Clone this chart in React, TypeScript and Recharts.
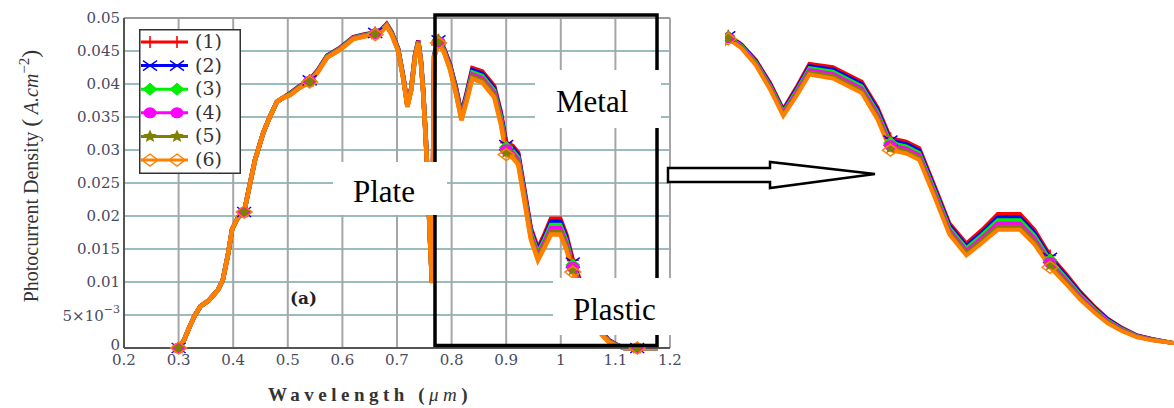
import React from 'react';
import { LineChart, Line, XAxis, YAxis, CartesianGrid, ReferenceArea, ReferenceLine, Legend } from 'recharts';

const wavelength = [
  0.300, 0.310, 0.320, 0.330, 0.340, 0.355, 0.372, 0.381, 0.391, 0.398,
  0.409, 0.420, 0.431, 0.440, 0.455, 0.467, 0.480, 0.491, 0.504, 0.520,
  0.540, 0.555, 0.572, 0.596, 0.620, 0.640, 0.660, 0.672, 0.681, 0.690,
  0.702, 0.712, 0.719, 0.726, 0.733, 0.739, 0.744, 0.748, 0.752, 0.756,
  0.760, 0.764, 0.768, 0.776, 0.786, 0.797, 0.808, 0.818, 0.828, 0.838,
  0.856, 0.878, 0.890, 0.900, 0.912, 0.922, 0.933, 0.945, 0.958, 0.970,
  0.982, 0.999, 1.010, 1.022, 1.034, 1.045, 1.056, 1.066, 1.077, 1.088,
  1.100, 1.116, 1.140, 1.178,
];

const series1 = [
  0.0000, 0.0012, 0.0032, 0.0050, 0.0063, 0.0072, 0.0088, 0.0103, 0.0144, 0.0180,
  0.0198, 0.0206, 0.0250, 0.0285, 0.0326, 0.0350, 0.0373, 0.0379, 0.0386, 0.0396,
  0.0406, 0.0421, 0.0443, 0.0455, 0.0471, 0.0475, 0.0478, 0.0483, 0.0491, 0.0479,
  0.0454, 0.0409, 0.0369, 0.0394, 0.0444, 0.0466, 0.0434, 0.0390, 0.0330, 0.0264,
  0.0174, 0.0102, 0.0444, 0.0467, 0.0454, 0.0430, 0.0395, 0.0355, 0.0388, 0.0424,
  0.0419, 0.0397, 0.0358, 0.0311, 0.0306, 0.0296, 0.0242, 0.0182, 0.0151, 0.0172,
  0.0196, 0.0196, 0.0172, 0.0133, 0.0105, 0.0078, 0.0055, 0.0037, 0.0023, 0.0012,
  0.0006, 0.0000, 0.0000, 0.0000,
];
const series2 = [
  0.0000, 0.0012, 0.0032, 0.0050, 0.0063, 0.0072, 0.0088, 0.0103, 0.0144, 0.0180,
  0.0198, 0.0206, 0.0250, 0.0285, 0.0326, 0.0350, 0.0373, 0.0379, 0.03854, 0.03954,
  0.04054, 0.04204, 0.04424, 0.04544, 0.04704, 0.04744, 0.04774, 0.04824, 0.04904, 0.04782,
  0.04532, 0.04082, 0.03682, 0.03932, 0.04432, 0.04652, 0.04332, 0.03892, 0.03292, 0.02632,
  0.01732, 0.01012, 0.04432, 0.0466, 0.04528, 0.04284, 0.0393, 0.0353, 0.03854, 0.04208,
  0.04156, 0.03936, 0.03544, 0.03074, 0.03024, 0.02924, 0.02386, 0.01786, 0.01474, 0.0168,
  0.01912, 0.01912, 0.01676, 0.01294, 0.0102, 0.00756, 0.00532, 0.00356, 0.0022, 0.00114,
  0.00056, 0.0000, 0.0000, 0.0000,
];
const series3 = [
  0.0000, 0.0012, 0.0032, 0.0050, 0.0063, 0.0072, 0.0088, 0.0103, 0.0144, 0.0180,
  0.0198, 0.0206, 0.0250, 0.0285, 0.0326, 0.0350, 0.0373, 0.0379, 0.03848, 0.03948,
  0.04048, 0.04198, 0.04418, 0.04538, 0.04698, 0.04738, 0.04768, 0.04818, 0.04898, 0.04774,
  0.04524, 0.04074, 0.03674, 0.03924, 0.04424, 0.04644, 0.04324, 0.03884, 0.03284, 0.02624,
  0.01724, 0.01004, 0.04424, 0.0465, 0.04516, 0.04268, 0.0391, 0.0351, 0.03828, 0.04176,
  0.04122, 0.03902, 0.03508, 0.03038, 0.02988, 0.02888, 0.02352, 0.01752, 0.01438, 0.0164,
  0.01864, 0.01864, 0.01632, 0.01258, 0.0099, 0.00732, 0.00514, 0.00342, 0.0021, 0.00108,
  0.00052, 0.0000, 0.0000, 0.0000,
];
const series4 = [
  0.0000, 0.0012, 0.0032, 0.0050, 0.0063, 0.0072, 0.0088, 0.0103, 0.0144, 0.0180,
  0.0198, 0.0206, 0.0250, 0.0285, 0.0326, 0.0350, 0.0373, 0.0379, 0.03842, 0.03942,
  0.04042, 0.04192, 0.04412, 0.04532, 0.04692, 0.04732, 0.04762, 0.04812, 0.04892, 0.04766,
  0.04516, 0.04066, 0.03666, 0.03916, 0.04416, 0.04636, 0.04316, 0.03876, 0.03276, 0.02616,
  0.01716, 0.00996, 0.04416, 0.0464, 0.04504, 0.04252, 0.0389, 0.0349, 0.03802, 0.04144,
  0.04088, 0.03868, 0.03472, 0.03002, 0.02952, 0.02852, 0.02318, 0.01718, 0.01402, 0.0160,
  0.01816, 0.01816, 0.01588, 0.01222, 0.0096, 0.00708, 0.00496, 0.00328, 0.0020, 0.00102,
  0.00048, 0.0000, 0.0000, 0.0000,
];
const series5 = [
  0.0000, 0.0012, 0.0032, 0.0050, 0.0063, 0.0072, 0.0088, 0.0103, 0.0144, 0.0180,
  0.0198, 0.0206, 0.0250, 0.0285, 0.0326, 0.0350, 0.0373, 0.0379, 0.03836, 0.03936,
  0.04036, 0.04186, 0.04406, 0.04526, 0.04686, 0.04726, 0.04756, 0.04806, 0.04886, 0.04758,
  0.04508, 0.04058, 0.03658, 0.03908, 0.04408, 0.04628, 0.04308, 0.03868, 0.03268, 0.02608,
  0.01708, 0.00988, 0.04408, 0.0463, 0.04492, 0.04236, 0.0387, 0.0347, 0.03776, 0.04112,
  0.04054, 0.03834, 0.03436, 0.02966, 0.02916, 0.02816, 0.02284, 0.01684, 0.01366, 0.0156,
  0.01768, 0.01768, 0.01544, 0.01186, 0.0093, 0.00684, 0.00478, 0.00314, 0.0019, 0.00096,
  0.00044, 0.0000, 0.0000, 0.0000,
];
const series6 = [
  0.0000, 0.0012, 0.0032, 0.0050, 0.0063, 0.0072, 0.0088, 0.0103, 0.0144, 0.0180,
  0.0198, 0.0206, 0.0250, 0.0285, 0.0326, 0.0350, 0.0373, 0.0379, 0.0383, 0.0393,
  0.0403, 0.0418, 0.0440, 0.0452, 0.0468, 0.0472, 0.0475, 0.0480, 0.0488, 0.0475,
  0.0450, 0.0405, 0.0365, 0.0390, 0.0440, 0.0462, 0.0430, 0.0386, 0.0326, 0.0260,
  0.0170, 0.0098, 0.0440, 0.0462, 0.0448, 0.0422, 0.0385, 0.0345, 0.0375, 0.0408,
  0.0402, 0.0380, 0.0340, 0.0293, 0.0288, 0.0278, 0.0225, 0.0165, 0.0133, 0.0152,
  0.0172, 0.0172, 0.0150, 0.0115, 0.0090, 0.0066, 0.0046, 0.0030, 0.0018, 0.0009,
  0.0004, 0.0000, 0.0000, 0.0000,
];

const seriesNames = ['(1)', '(2)', '(3)', '(4)', '(5)', '(6)'];
const seriesColors = ['#ff0000', '#0000ff', '#00ee00', '#ff00ff', '#808000', '#ff8000'];
const seriesValues = [series1, series2, series3, series4, series5, series6];
const markerWavelengths = [0.300, 0.420, 0.540, 0.660, 0.776, 0.900, 1.022, 1.140];

const xTicks = [0.2, 0.3, 0.4, 0.5, 0.6, 0.7, 0.8, 0.9, 1.0, 1.1, 1.2];
const yTicks = [0, 0.005, 0.01, 0.015, 0.02, 0.025, 0.03, 0.035, 0.04, 0.045, 0.05];

// annotation regions (data coordinates)
const frameRegion = { x1: 0.7696, x2: 1.1762, y1: 0.00038, y2: 0.05045 };
const labelBoxes = [
  { x1: 0.5828, x2: 0.7916, y1: 0.02015, y2: 0.02818, text: 'Plate', dx: 20, dy: 40 },
  { x1: 0.9527, x2: 1.1835, y1: 0.03333, y2: 0.04212, text: 'Metal', dx: 21, dy: 42 },
  { x1: 0.9857, x2: 1.2092, y1: 0.00197, y2: 0.01061, text: 'Plastic', dx: 20, dy: 42 },
];

const data = wavelength.map((w, i) => {
  const row: any = { w };
  seriesValues.forEach((s, k) => { row['s' + (k + 1)] = s[i]; });
  return row;
});

const TICK_FONT = 'DejaVu Serif';
const TICK_FILL = '#4a4a5e';

function starPoints(cx: number, cy: number, R: number, r: number) {
  const pts: string[] = [];
  for (let i = 0; i < 10; i++) {
    const a = -Math.PI / 2 + (i * Math.PI) / 5;
    const rr = i % 2 ? r : R;
    pts.push(`${cx + rr * Math.cos(a)},${cy + rr * Math.sin(a)}`);
  }
  return pts.join(' ');
}

function Marker({ kind, cx, cy }: { kind: number; cx: number; cy: number }) {
  const c = seriesColors[kind];
  switch (kind) {
    case 0:
      return <path d={`M${cx - 6},${cy}H${cx + 6}M${cx},${cy - 6}V${cy + 6}`} stroke={c} strokeWidth={1.6} fill="none" />;
    case 1:
      return <path d={`M${cx - 7},${cy - 5}L${cx + 7},${cy + 5}M${cx - 7},${cy + 5}L${cx + 7},${cy - 5}`} stroke={c} strokeWidth={1.4} fill="none" />;
    case 2:
      return <polygon points={`${cx},${cy - 6} ${cx + 7},${cy} ${cx},${cy + 6} ${cx - 7},${cy}`} fill={c} stroke={c} />;
    case 3:
      return <ellipse cx={cx} cy={cy} rx={6.5} ry={5.5} fill={c} />;
    case 4:
      return <polygon points={starPoints(cx, cy, 7, 3.2)} fill={c} />;
    default:
      return <polygon points={`${cx},${cy - 6} ${cx + 8},${cy} ${cx},${cy + 6} ${cx - 8},${cy}`} fill="none" stroke={c} strokeWidth={1.4} />;
  }
}

const makeDot = (k: number) => (props: any) => {
  const { cx, cy, payload, index } = props;
  const key = `dot-${k}-${index}`;
  if (cx == null || cy == null || !payload || markerWavelengths.indexOf(payload.w) < 0) return <g key={key} />;
  return (
    <g key={key}>
      <Marker kind={k} cx={cx} cy={cy} />
    </g>
  );
};

const YTick = (props: any) => {
  const { x, y, payload } = props;
  const v = payload.value;
  if (Math.abs(v - 0.005) < 1e-9) {
    return (
      <text x={x} y={y} dy={6} textAnchor="end" fontFamily={TICK_FONT} fontSize={15} fill={TICK_FILL}>
        5×10<tspan dy={-8} fontSize={11}>−3</tspan>
      </text>
    );
  }
  return (
    <text x={x} y={y} dy={v === 0 ? 2 : 5} textAnchor="end" fontFamily={TICK_FONT} fontSize={15} fill={TICK_FILL}>
      {v === 0 ? '0' : String(v)}
    </text>
  );
};

const XTick = (props: any) => {
  const { x, y, payload } = props;
  return (
    <text x={x} y={y} dy={11} textAnchor="middle" fontFamily={TICK_FONT} fontSize={15} fill={TICK_FILL}>
      {String(payload.value)}
    </text>
  );
};

const renderYLabel = () => (
  <text
    x={38}
    y={176}
    transform="rotate(-90, 38, 176)"
    textAnchor="middle"
    fontFamily="Liberation Serif"
    fontSize={20}
    fill="#333"
  >
    Photocurrent Density <tspan fontSize={24}>(</tspan>
    <tspan fontStyle="italic"> A.cm</tspan>
    <tspan dy={-9} fontSize={15}>−2</tspan>
    <tspan dy={9} fontSize={24}>)</tspan>
  </text>
);

const renderXLabel = () => (
  <text x={370} y={401} textAnchor="middle" fontFamily="Liberation Serif" fontWeight="bold" fontSize={19} letterSpacing={4.5} fill="#333">
    Wavelength (<tspan fontStyle="italic" fontWeight="normal">μm</tspan>)
  </text>
);

const LegendBox = () => (
  <svg width={102} height={145} style={{ display: 'block' }}>
    <rect x={0.75} y={0.75} width={100.5} height={143.5} fill="#fff" stroke="#333" strokeWidth={1.5} />
    {seriesNames.map((name, k) => {
      const y = 13 + k * 23.6;
      return (
        <g key={name}>
          <line x1={2} x2={49} y1={y} y2={y} stroke={seriesColors[k]} strokeWidth={3} />
          <Marker kind={k} cx={11} cy={y} />
          <Marker kind={k} cx={38} cy={y} />
          <text x={56} y={y + 6} fontFamily="DejaVu Serif" fontSize={19} fill="#333">{name}</text>
        </g>
      );
    })}
  </svg>
);

const boxLabel = (text: string, dx: number, dy: number) => (props: any) => {
  const vb = props.viewBox || { x: 0, y: 0 };
  return (
    <text x={vb.x + dx} y={vb.y + dy} fontFamily="Liberation Serif" fontSize={31} fill="#000">
      {text}
    </text>
  );
};

const W = 690;
const H = 408;

export default function App() {
  return (
    <div style={{ position: 'absolute', left: 0, top: 0, width: 1174, height: 408, background: '#fff', overflow: 'hidden' }}>
      {/* main chart */}
      <div style={{ position: 'absolute', left: 0, top: 0 }}>
        <LineChart width={W} height={H} data={data} margin={{ top: 18, right: 20, left: 0, bottom: 0 }}>
          <CartesianGrid horizontal={true} vertical={false} stroke="#7aa6a6" strokeWidth={1.6} />
          <CartesianGrid horizontal={false} vertical={true} stroke="#a6a6a6" strokeWidth={2} />
          <XAxis
            dataKey="w"
            type="number"
            domain={[0.2, 1.2]}
            ticks={xTicks}
            height={60}
            tickSize={0}
            tickMargin={6}
            tick={XTick}
            axisLine={{ stroke: '#555', strokeWidth: 2 }}
            label={renderXLabel}
          />
          <YAxis
            type="number"
            domain={[0, 0.05]}
            ticks={yTicks}
            width={124}
            tickSize={0}
            tickMargin={4}
            tick={YTick}
            axisLine={{ stroke: '#555', strokeWidth: 2 }}
            label={renderYLabel}
          />
          <ReferenceLine y={0.05} stroke="#999" strokeWidth={2} />
          {seriesNames.map((name, k) => (
            <Line
              key={name}
              type="linear"
              dataKey={'s' + (k + 1)}
              name={name}
              stroke={seriesColors[k]}
              strokeWidth={4.5}
              dot={makeDot(k)}
              activeDot={false}
              isAnimationActive={false}
            />
          ))}
          <Legend
            layout="vertical"
            align="center"
            verticalAlign="middle"
            wrapperStyle={{ position: 'absolute', left: 139, top: 29, width: 102, height: 145 }}
            content={() => <LegendBox />}
          />
        </LineChart>
      </div>

      {/* overlay annotations in the same data space */}
      <div style={{ position: 'absolute', left: 0, top: 0 }}>
        <LineChart width={W} height={H} data={data} margin={{ top: 18, right: 20, left: 0, bottom: 0 }}>
          <XAxis dataKey="w" type="number" domain={[0.2, 1.2]} ticks={xTicks} height={60} tick={false} axisLine={false} tickLine={false} />
          <YAxis type="number" domain={[0, 0.05]} ticks={yTicks} width={124} tick={false} axisLine={false} tickLine={false} />
          <Line dataKey="s6" stroke="none" strokeWidth={0} dot={false} activeDot={false} isAnimationActive={false} />
          <ReferenceArea
            x1={frameRegion.x1}
            x2={frameRegion.x2}
            y1={frameRegion.y1}
            y2={frameRegion.y2}
            fill="none"
            fillOpacity={0}
            stroke="#000"
            strokeWidth={3.5}
            ifOverflow="visible"
          />
          {labelBoxes.map((b) => (
            <ReferenceArea
              key={b.text}
              x1={b.x1}
              x2={b.x2}
              y1={b.y1}
              y2={b.y2}
              fill="#fff"
              fillOpacity={1}
              stroke="none"
              ifOverflow="visible"
              label={boxLabel(b.text, b.dx, b.dy)}
            />
          ))}
        </LineChart>
      </div>

      {/* magnified detail on the right */}
      <div style={{ position: 'absolute', left: 725, top: 0 }}>
        <LineChart width={449} height={408} data={data} margin={{ top: 0, right: 0, left: 0, bottom: 0 }}>
          <XAxis dataKey="w" type="number" domain={[0.77347, 1.11674]} allowDataOverflow hide />
          <YAxis type="number" domain={[-0.00988, 0.05212]} allowDataOverflow hide />
          {seriesNames.map((name, k) => (
            <Line
              key={name}
              type="linear"
              dataKey={'s' + (k + 1)}
              stroke={seriesColors[k]}
              strokeWidth={4}
              dot={makeDot(k)}
              activeDot={false}
              isAnimationActive={false}
            />
          ))}
        </LineChart>
      </div>

      {/* arrow and panel tag */}
      <svg width={1174} height={408} style={{ position: 'absolute', left: 0, top: 0, pointerEvents: 'none' }}>
        <polygon
          points="668,168 770,168 770,162 875,174 770,188 770,182 668,182"
          fill="#fff"
          stroke="#000"
          strokeWidth={2.5}
          strokeLinejoin="miter"
        />
        <text x={290} y={304} fontFamily="DejaVu Serif" fontWeight="bold" fontSize={17} fill="#222">(a)</text>
      </svg>
    </div>
  );
}
